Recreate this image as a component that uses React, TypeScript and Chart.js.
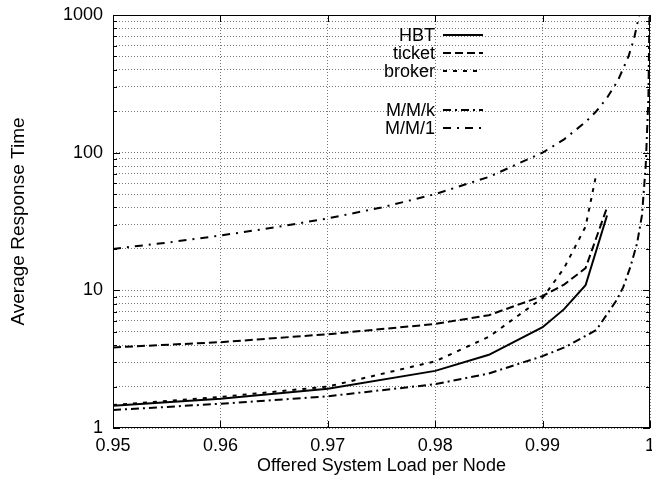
import React, { useEffect, useRef } from 'react';
import { Chart, registerables } from 'chart.js';

Chart.register(...registerables);

// ---- data ----
const X_TICKS = [0.95, 0.96, 0.97, 0.98, 0.99, 1];
const X_TICK_LABELS = ['0.95', '0.96', '0.97', '0.98', '0.99', '1'];
const Y_TICK_LABELS = [1, 10, 100, 1000];
const Y_MINOR_STEPS = [1, 2, 3, 4, 5, 6, 7, 8, 9];

const HBT_X = [0.95, 0.96, 0.97, 0.98, 0.985, 0.99, 0.992, 0.994, 0.996];
const HBT_Y = [1.45, 1.63, 1.93, 2.6, 3.4, 5.4, 7.3, 10.9, 35];

const TICKET_X = [0.95, 0.96, 0.97, 0.98, 0.985, 0.99, 0.992, 0.994, 0.996];
const TICKET_Y = [3.85, 4.2, 4.8, 5.7, 6.6, 9.1, 11, 14.5, 40];

const BROKER_X = [0.95, 0.96, 0.97, 0.98, 0.985, 0.99, 0.992, 0.994, 0.995];
const BROKER_Y = [1.47, 1.68, 2.0, 3.05, 4.6, 8.8, 14.5, 29, 70];

const MMK_X = [0.95, 0.96, 0.97, 0.98, 0.985, 0.99, 0.9922, 0.995, 0.9969, 0.9975, 0.9982, 0.9988, 0.99925, 0.9996, 0.99985, 0.99995];
const MMK_Y = [1.35, 1.5, 1.7, 2.08, 2.49, 3.33, 3.9, 5.15, 8.5, 10.5, 15, 22, 35, 80, 250, 1000];

const MM1_X = [0.95, 0.955, 0.96, 0.965, 0.97, 0.975, 0.98, 0.985, 0.99, 0.992, 0.994, 0.995, 0.996, 0.997, 0.998, 0.9985, 0.999];
const MM1_Y = [20, 22.2, 25, 28.6, 33.3, 40, 50, 66.7, 100, 125, 167, 200, 250, 333, 500, 667, 1000];

const FONT = "'Liberation Sans', Arial, Helvetica, sans-serif";

const pts = (xs: number[], ys: number[]) => xs.map((x, i) => ({ x, y: ys[i] }));

const LEGEND_ROWS = [20, 38, 56, 95, 113];

const framePlugin = {
  id: 'frameAndLegend',
  afterDatasetsDraw(chart: any) {
    const { ctx, chartArea: a, scales } = chart;
    ctx.save();
    ctx.setLineDash([]);
    ctx.strokeStyle = '#000';
    ctx.lineWidth = 1;
    ctx.strokeRect(a.left + 0.5, a.top + 0.5, a.right - a.left - 1, a.bottom - a.top - 1);
    ctx.beginPath();
    for (const v of X_TICKS) {
      const px = Math.round(scales.x.getPixelForValue(v)) + 0.5;
      ctx.moveTo(px, a.bottom);
      ctx.lineTo(px, a.bottom - 7);
      ctx.moveTo(px, a.top);
      ctx.lineTo(px, a.top + 7);
    }
    for (const t of scales.y.ticks) {
      const py = Math.round(scales.y.getPixelForValue(t.value)) + 0.5;
      const len = Y_TICK_LABELS.includes(t.value) ? 7 : 4;
      ctx.moveTo(a.left, py);
      ctx.lineTo(a.left + len, py);
      ctx.moveTo(a.right, py);
      ctx.lineTo(a.right - len, py);
    }
    ctx.stroke();

    // legend (text right-aligned, sample to the right)
    ctx.font = `18px ${FONT}`;
    ctx.fillStyle = '#000';
    ctx.textAlign = 'right';
    ctx.textBaseline = 'middle';
    chart.data.datasets.forEach((ds: any, i: number) => {
      const y = a.top + LEGEND_ROWS[i];
      const tx = a.left + 322;
      ctx.fillText(ds.label, tx, y + 1);
      ctx.beginPath();
      ctx.lineWidth = 2;
      ctx.setLineDash(ds.borderDash || []);
      ctx.moveTo(tx + 8, y);
      ctx.lineTo(tx + 48, y);
      ctx.stroke();
    });
    ctx.restore();
  },
};

export default function App() {
  const ref = useRef<HTMLCanvasElement>(null);
  useEffect(() => {
    document.body.style.margin = '0';
    const canvas = ref.current!;
    const common = { borderColor: '#000', borderWidth: 2, pointRadius: 0, tension: 0, fill: false };
    const chart = new Chart(canvas, {
      type: 'line',
      data: {
        datasets: [
          { ...common, label: 'HBT', data: pts(HBT_X, HBT_Y), borderDash: [] },
          { ...common, label: 'ticket', data: pts(TICKET_X, TICKET_Y), borderDash: [8, 4] },
          { ...common, label: 'broker', data: pts(BROKER_X, BROKER_Y), borderDash: [4, 6] },
          { ...common, label: 'M/M/k', data: pts(MMK_X, MMK_Y), borderDash: [8, 4, 2, 4] },
          { ...common, label: 'M/M/1', data: pts(MM1_X, MM1_Y), borderDash: [8, 6, 2, 6] },
        ],
      },
      options: {
        responsive: false,
        animation: false,
        events: [],
        layout: { padding: { top: 15, right: 2, left: 0, bottom: 0 } },
        plugins: { legend: { display: false }, tooltip: { enabled: false } },
        scales: {
          x: {
            type: 'linear',
            min: 0.95,
            max: 1,
            afterBuildTicks: (s: any) => {
              s.ticks = X_TICKS.map((v) => ({ value: v }));
            },
            afterFit: (s: any) => {
              s.height = 53;
              s.paddingLeft = 0;
              s.paddingRight = 0;
            },
            ticks: {
              autoSkip: false,
              maxRotation: 0,
              padding: 7,
              color: '#000',
              font: { family: FONT, size: 18 },
              callback: (_v: any, i: number) => X_TICK_LABELS[i],
            },
            grid: { color: '#777', lineWidth: 1, drawTicks: false },
            border: { display: false, dash: [1, 2] },
            title: {
              display: true,
              text: 'Offered System Load per Node',
              color: '#000',
              font: { family: FONT, size: 18 },
              padding: { top: 0, bottom: 4 },
            },
          },
          y: {
            type: 'logarithmic',
            min: 1,
            max: 1000,
            afterBuildTicks: (s: any) => {
              const t: any[] = [];
              Y_TICK_LABELS.forEach((d, k) => {
                if (k === Y_TICK_LABELS.length - 1) {
                  t.push({ value: d });
                } else {
                  Y_MINOR_STEPS.forEach((m) => t.push({ value: d * m }));
                }
              });
              s.ticks = t;
            },
            afterFit: (s: any) => {
              s.width = 113;
              s.paddingTop = 0;
              s.paddingBottom = 0;
            },
            ticks: {
              autoSkip: false,
              padding: 10,
              color: '#000',
              font: { family: FONT, size: 18 },
              callback: (v: any) => (Y_TICK_LABELS.includes(Number(v)) ? String(v) : ''),
            },
            grid: { color: '#777', lineWidth: 1, drawTicks: false },
            border: { display: false, dash: [1, 2] },
            title: {
              display: true,
              text: 'Average Response Time',
              color: '#000',
              font: { family: FONT, size: 19 },
              padding: { top: 7, bottom: 0 },
            },
          },
        },
      },
      plugins: [framePlugin],
    } as any);
    return () => chart.destroy();
  }, []);
  return <canvas ref={ref} width={652} height={481} style={{ display: 'block' }} />;
}
